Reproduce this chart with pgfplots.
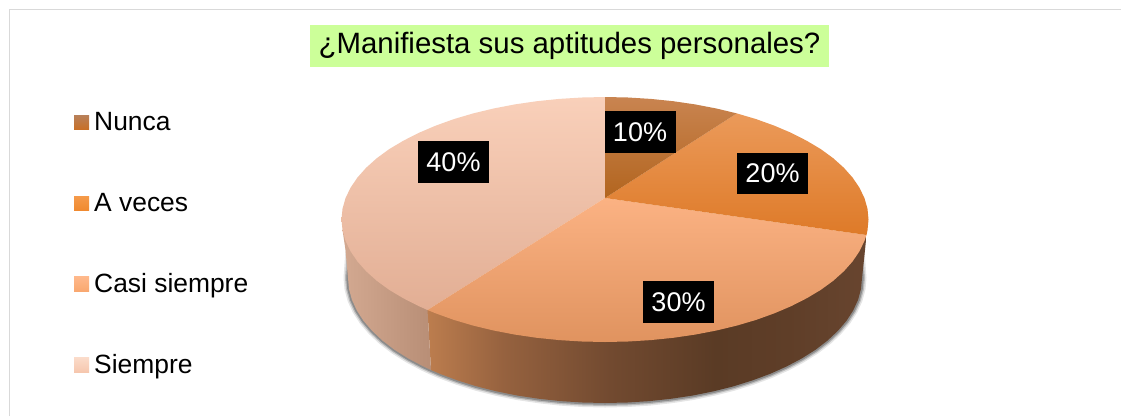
\documentclass[border=0pt]{standalone}
\usepackage{fontspec}
\setmainfont{Liberation Sans}
\usepackage{pgfplots}
\usepackage{pgfplotstable}
\pgfplotsset{compat=1.18}

\definecolor{wallA}{HTML}{BC7D4E}
\definecolor{wallB}{HTML}{96623F}
\definecolor{wallC}{HTML}{724A30}
\definecolor{wallD}{HTML}{5A3B25}
\definecolor{wallE}{HTML}{5F3E28}
\definecolor{wallF}{HTML}{68452F}
\definecolor{leftA}{HTML}{D3A991}
\definecolor{leftB}{HTML}{B88E76}
\definecolor{sFourA}{HTML}{F9D0BA}
\definecolor{sFourB}{HTML}{E2AE94}
\definecolor{sThreeA}{HTML}{FBB283}
\definecolor{sThreeB}{HTML}{E0935F}
\definecolor{sTwoA}{HTML}{EB9A5A}
\definecolor{sTwoB}{HTML}{DE7A28}
\definecolor{sOneA}{HTML}{C98450}
\definecolor{sOneB}{HTML}{B2651F}
\definecolor{titlegreen}{HTML}{CCFF99}
\definecolor{lgOneA}{HTML}{B8805A}
\definecolor{lgOneB}{HTML}{C87028}
\definecolor{lgTwoA}{HTML}{F59A4A}
\definecolor{lgTwoB}{HTML}{F08A30}
\definecolor{lgThreeA}{HTML}{FFB98C}
\definecolor{lgThreeB}{HTML}{F9A870}
\definecolor{lgFourA}{HTML}{FBDCCB}
\definecolor{lgFourB}{HTML}{F6C7AE}
\pgfdeclarehorizontalshading{wallmid}{100bp}{color(0bp)=(wallA); color(25bp)=(wallA); color(33.6bp)=(wallB); color(45.8bp)=(wallC); color(57.8bp)=(wallD); color(66bp)=(wallE); color(75bp)=(wallF); color(100bp)=(wallF)}

% pie outline in pixels
\pgfplotstableread{
x y
860 250
862 278
861 288.9
858.1 299.7
853.2 310.4
846.5 320.8
837.9 330.8
827.6 340.5
815.6 349.7
801.8 358.4
786.7 366.4
770.2 373.8
752.4 380.4
733.5 386.3
713.6 391.3
692.9 395.5
671.5 398.7
649.6 401.1
627.4 402.5
605 403
582.6 402.5
560.4 401.1
538.5 398.7
517.1 395.5
496.4 391.3
476.5 386.3
457.6 380.4
439.8 373.8
431 370
423.3 366.4
408.2 358.4
394.4 349.7
382.4 340.5
372.1 330.8
363.5 320.8
356.8 310.4
351.9 299.7
349 288.9
348 278
350 250
}\shadowedge

\newcommand{\labelbox}[3]{\node[fill=black,text=white,minimum width=71pt,minimum height=41.5pt,inner sep=0pt,font=\fontsize{27}{30}\selectfont] at (axis cs:#1,#2) {#3\%};}
\newcommand{\legendtext}[3]{\node[anchor=base west,inner sep=0pt,font=\fontsize{26.4}{30}\selectfont] at (axis cs:#1,#2) {#3};}

\begin{document}
\begin{tikzpicture}
\begin{axis}[
  width=1121pt, height=416pt, scale only axis,
  xmin=0, xmax=1121, ymin=0, ymax=416, y dir=reverse,
  hide axis, clip=true,
]
% page and frame
\addplot[fill=white,draw=none] coordinates {(0,0) (1121,0) (1121,416) (0,416) (0,0)};
\addplot[draw=black!15,line width=1.5pt] coordinates {(9.3,416) (9.3,9.5) (1121,9.5)};

% shadow under the pie
\addplot[draw=black,opacity=0.10,line width=9pt,line join=round,line cap=round] table {\shadowedge};
\addplot[draw=black,opacity=0.18,line width=6pt,line join=round,line cap=round] table {\shadowedge};
\addplot[draw=black,opacity=0.25,line width=3.5pt,line join=round,line cap=round] table {\shadowedge};

% side wall
\addplot[draw=none,shading=wallmid] coordinates {
(866.5,235) (865,250) (862,278) (861,288.9) (858.1,299.7) (853.2,310.4) (846.5,320.8) (837.9,330.8)
(827.6,340.5) (815.6,349.7) (801.8,358.4) (786.7,366.4) (770.2,373.8) (752.4,380.4) (733.5,386.3)
(713.6,391.3) (692.9,395.5) (671.5,398.7) (649.6,401.1) (627.4,402.5) (605,403) (582.6,402.5)
(560.4,401.1) (538.5,398.7) (517.1,395.5) (496.4,391.3) (476.5,386.3) (457.6,380.4) (439.8,373.8)
(431,370) (427.5,310) (866.5,235)};
\addplot[draw=none,left color=leftA,right color=leftB] coordinates {
(431,370) (423.3,366.4) (408.2,358.4) (394.4,349.7) (382.4,340.5) (372.1,330.8) (363.5,320.8)
(356.8,310.4) (351.9,299.7) (349,288.9) (348,278) (345.5,250) (342.5,230) (427.5,310) (431,370)};

% 40 %
\addplot[draw=none,top color=sFourA,bottom color=sFourB] coordinates {
(605,198) (427.5,310) (418.7,306.1) (403.2,298.2) (389.1,289.8) (376.8,280.8) (366.2,271.3) (357.4,261.4)
(350.5,251.2) (345.5,240.8) (342.5,230.2) (341.5,219.5) (342.5,208.8) (345.5,198.2) (350.5,187.8)
(357.4,177.6) (366.2,167.7) (376.8,158.2) (389.1,149.2) (403.2,140.8) (418.7,132.9) (435.6,125.7)
(453.9,119.1) (473.2,113.4) (493.6,108.5) (514.9,104.4) (536.8,101.2) (559.3,98.9) (582,97.5) (605,97) (605,198)};
% 30 %
\addplot[draw=none,top color=sThreeA,bottom color=sThreeB] coordinates {
(605,198) (866.5,235) (864.5,240.8) (859.5,251.2) (852.6,261.4) (843.8,271.3) (833.2,280.8) (820.9,289.8)
(806.8,298.2) (791.3,306.1) (774.4,313.3) (756.1,319.9) (736.8,325.6) (716.4,330.5) (695.1,334.6)
(673.2,337.8) (650.7,340.1) (628,341.5) (605,342) (582,341.5) (559.3,340.1) (536.8,337.8) (514.9,334.6)
(493.6,330.5) (473.2,325.6) (453.9,319.9) (435.6,313.3) (427.5,310) (605,198)};
% 20 %
\addplot[draw=none,top color=sTwoA,bottom color=sTwoB] coordinates {
(605,198) (736.8,113.4) (756.1,119.1) (774.4,125.7) (791.3,132.9) (806.8,140.8) (820.9,149.2) (833.2,158.2)
(843.8,167.7) (852.6,177.6) (859.5,187.8) (864.5,198.2) (867.5,208.8) (868.5,219.5) (867.5,230.2) (866.5,235) (605,198)};
% 10 %
\addplot[draw=none,top color=sOneA,bottom color=sOneB] coordinates {
(605,198) (605,97) (628,97.5) (650.7,98.9) (673.2,101.2) (695.1,104.4) (716.4,108.5) (736.8,113.4) (605,198)};

\labelbox{640}{132}{10}
\labelbox{772.5}{173.5}{20}
\labelbox{678.5}{302}{30}
\labelbox{453.5}{162}{40}

% title
\node[fill=titlegreen,minimum width=519pt,minimum height=42pt,inner sep=0pt,font=\fontsize{29.4}{32}\selectfont] at (axis cs:569.5,46) {¿Manifiesta sus aptitudes personales?};

% legend
\addplot[draw=none,top color=lgOneA,bottom color=lgOneB] coordinates {(74,115) (89,115) (89,129) (74,129) (74,115)};
\addplot[draw=none,top color=lgTwoA,bottom color=lgTwoB] coordinates {(74,196) (89,196) (89,210) (74,210) (74,196)};
\addplot[draw=none,top color=lgThreeA,bottom color=lgThreeB] coordinates {(74,276) (89,276) (89,291) (74,291) (74,276)};
\addplot[draw=none,top color=lgFourA,bottom color=lgFourB] coordinates {(74,357) (89,357) (89,372) (74,372) (74,357)};
\legendtext{94}{130}{Nunca}
\legendtext{94}{211}{A veces}
\legendtext{94}{292}{Casi siempre}
\legendtext{94}{373}{Siempre}
\end{axis}
\end{tikzpicture}
\end{document}
